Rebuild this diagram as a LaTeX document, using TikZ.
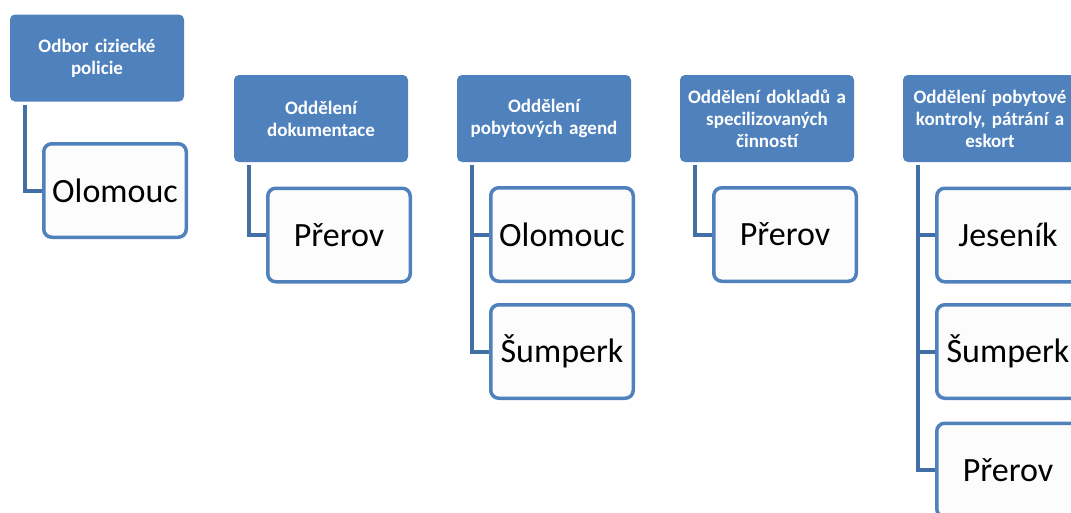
\documentclass[tikz,border=0pt]{standalone}
\usepackage{fontspec}
\setmainfont{Carlito}
\usepackage{tikz}
\usetikzlibrary{calc}
\usepackage{xcolor}
\definecolor{hdrblue}{HTML}{4F81BD}
\definecolor{boxblue}{HTML}{4F81BD}
\definecolor{linkblue}{HTML}{416FA6}

\begin{document}
\begin{tikzpicture}[x=1pt,y=-1pt,
        hdr/.style={fill=hdrblue,rounded corners=5pt,minimum width=174pt,minimum height=87pt,
            text width=168pt,align=center,inner sep=0pt,text=white,
            font=\bfseries\fontsize{19}{22}\selectfont},
        unit/.style={draw=boxblue,line width=3.5pt,fill=black!1,rounded corners=8pt,
            minimum width=142.5pt,minimum height=93.5pt,inner sep=0pt,
            font=\fontsize{34}{40}\selectfont},
        link/.style={draw=linkblue,line width=4pt}]
            \useasboundingbox (0,0) rectangle (1071,512);
            \clip (0,0) rectangle (1071,512);
            \node[hdr] (odbor) at (97,58) {Odbor ciziecké\\policie};
            \node[hdr] (dokum) at (321,118.5) {Oddělení\\dokumentace};
            \node[hdr] (pobyt) at (544,118.5) {Oddělení\\pobytových agend};
            \node[hdr] (doklad) at (767,118.5) {Oddělení dokladů a\\specilizovaných\\činností};
            \node[hdr] (kontr) at (990,118.5) {Oddělení pobytové\\kontroly, pátrání a\\eskort};
            \node[unit] (olA) at (115,190.5) {Olomouc};
            \node[unit] (prA) at (339,235) {Přerov};
            \node[unit] (olB) at (562,234.5) {Olomouc};
            \node[unit] (suB) at (562,351.5) {Šumperk};
            \node[unit] (prC) at (785,234.5) {Přerov};
            \node[unit] (jeD) at (1008,235) {Jeseník};
            \node[unit] (suD) at (1008,351.5) {Šumperk};
            \node[unit] (prD) at (1008,470) {Přerov};
            \draw[link] ([xshift=15.5pt,yshift=-3pt]odbor.south west) |- (olA.west);
            \draw[link] ([xshift=15.5pt,yshift=-3pt]dokum.south west) |- (prA.west);
            \draw[link] ([xshift=15.5pt,yshift=-3pt]pobyt.south west) |- (olB.west);
            \draw[link] ([xshift=15.5pt,yshift=-3pt]pobyt.south west) |- (suB.west);
            \draw[link] ([xshift=15.5pt,yshift=-3pt]doklad.south west) |- (prC.west);
            \draw[link] ([xshift=15.5pt,yshift=-3pt]kontr.south west) |- (jeD.west);
            \draw[link] ([xshift=15.5pt,yshift=-3pt]kontr.south west) |- (suD.west);
            \draw[link] ([xshift=15.5pt,yshift=-3pt]kontr.south west) |- (prD.west);
        \end{tikzpicture}
\end{document}
